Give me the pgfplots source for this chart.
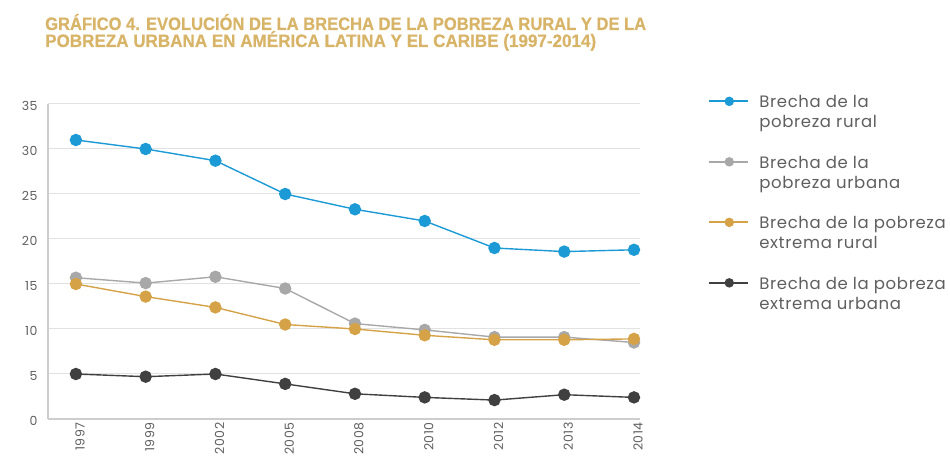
\documentclass[border=0pt]{standalone}
\usepackage{fontspec}
\setmainfont{Poppins}
\newfontfamily\titlefont[FakeBold=0.6]{Liberation Sans}
\newfontfamily\legfont[LetterSpace=4]{Poppins}
\usepackage{pgfplots}
\pgfplotsset{compat=1.18}
\definecolor{cblue}{RGB}{27,154,214}
\definecolor{cgray}{RGB}{168,168,168}
\definecolor{corange}{RGB}{214,162,72}
\definecolor{cdark}{RGB}{64,64,64}
\definecolor{ctitle}{RGB}{216,180,104}
\definecolor{ctext}{RGB}{95,95,95}
\definecolor{cgrid}{RGB}{226,226,226}
\definecolor{caxis}{RGB}{205,205,205}
\begin{document}
\begin{tikzpicture}[x=1pt,y=1pt]
\useasboundingbox (0,0) rectangle (950,457);
\node[anchor=base west,inner sep=0,text=ctitle] at (45,427) {\resizebox{601pt}{\height}{\titlefont\fontsize{18}{18}\bfseries GRÁFICO 4. EVOLUCIÓN DE LA BRECHA DE LA POBREZA RURAL Y DE LA}};
\node[anchor=base west,inner sep=0,text=ctitle] at (45,410) {\resizebox{551pt}{\height}{\titlefont\fontsize{18}{18}\bfseries POBREZA URBANA EN AMÉRICA LATINA Y EL CARIBE (1997-2014)}};
\begin{axis}[
  at={(48pt,38pt)}, anchor=south west,
  width=592pt, height=315pt, scale only axis,
  xmin=-0.4, xmax=8.086, ymin=0, ymax=35,
  ytick={0,5,...,35},
  xtick={0,...,8},
  xticklabels={1997,1999,2002,2005,2008,2010,2012,2013,2014},
  axis x line=bottom, axis y line=left,
  axis line style={-},
  x axis line style={draw=caxis, line width=1.5pt},
  y axis line style={draw=caxis, line width=2pt},
  major tick length=0pt,
  ymajorgrids, grid style={draw=cgrid, line width=1pt},
  tick label style={font=\legfont\fontsize{12.5}{13}\selectfont, text=ctext},
  /pgf/number format/assume math mode=true,
  yticklabel style={anchor=east, xshift=-7pt, yshift=-2pt},
  xticklabel style={rotate=90, anchor=east, yshift=-4pt},
  clip=false,
  legend style={at={(1.115,1.04)}, anchor=north west, draw=none, fill=none,
    inner sep=0pt, row sep=41pt,
    font=\legfont\fontsize{16.5}{20}\selectfont, text=ctext,
    cells={anchor=west}, /tikz/every odd column/.append style={column sep=8pt}},
  legend image code/.code={
    \draw[#1, mark=none, line width=2pt] (0pt,0pt) -- (39pt,0pt);
    \draw[#1, only marks, mark size=4pt] plot coordinates {(20pt,0pt)};
  },
]
\addplot[color=cblue, line width=1.4pt, mark=*, mark size=5.5pt] coordinates {
 (0,31.0) (1,30.0) (2,28.7) (3,25.0) (4,23.3) (5,22.0) (6,19.0) (7,18.6) (8,18.8)};
\addlegendentry{\begin{tabular}[t]{@{}l@{}}Brecha de la\\pobreza rural\end{tabular}}
\addplot[color=cgray, line width=1.4pt, mark=*, mark size=5.5pt] coordinates {
 (0,15.7) (1,15.1) (2,15.8) (3,14.5) (4,10.6) (5,9.9) (6,9.1) (7,9.1) (8,8.5)};
\addlegendentry{\begin{tabular}[t]{@{}l@{}}Brecha de la\\pobreza urbana\end{tabular}}
\addplot[color=corange, line width=1.4pt, mark=*, mark size=5.5pt] coordinates {
 (0,15.0) (1,13.6) (2,12.4) (3,10.5) (4,10.0) (5,9.3) (6,8.8) (7,8.8) (8,8.9)};
\addlegendentry{\begin{tabular}[t]{@{}l@{}}Brecha de la pobreza\\extrema rural\end{tabular}}
\addplot[color=cdark, line width=1.4pt, mark=*, mark size=5.5pt] coordinates {
 (0,5.0) (1,4.7) (2,5.0) (3,3.9) (4,2.8) (5,2.4) (6,2.1) (7,2.7) (8,2.4)};
\addlegendentry{\begin{tabular}[t]{@{}l@{}}Brecha de la pobreza\\extrema urbana\end{tabular}}
\end{axis}
\end{tikzpicture}
\end{document}
